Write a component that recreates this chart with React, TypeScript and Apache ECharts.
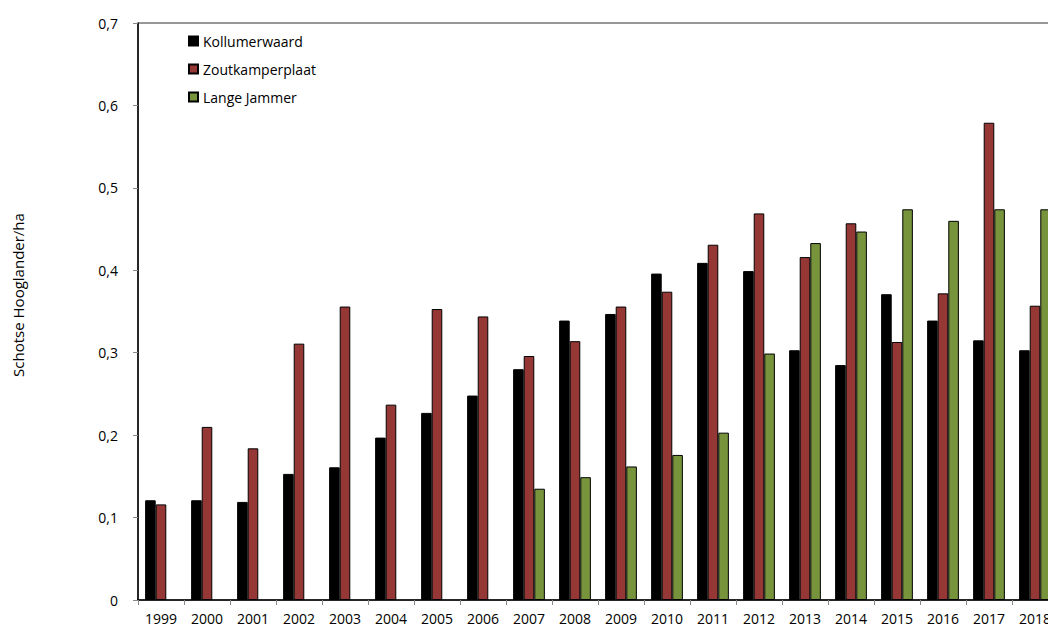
import React, { useEffect, useRef } from "react";
import * as echarts from "echarts";

const years = ["1999","2000","2001","2002","2003","2004","2005","2006","2007","2008","2009","2010","2011","2012","2013","2014","2015","2016","2017","2018"];
const kollumerwaard = [0.121,0.121,0.119,0.153,0.161,0.197,0.227,0.248,0.280,0.339,0.347,0.396,0.409,0.399,0.303,0.285,0.371,0.339,0.315,0.303];
const zoutkamperplaat = [0.116,0.210,0.184,0.311,0.356,0.237,0.353,0.344,0.296,0.314,0.356,0.374,0.431,0.469,0.416,0.457,0.313,0.372,0.579,0.357];
const langeJammer = [null,null,null,null,null,null,null,null,0.135,0.149,0.162,0.176,0.203,0.299,0.433,0.447,0.474,0.460,0.474,0.474];
const seriesNames = ["Kollumerwaard", "Zoutkamperplaat", "Lange Jammer"];
const yTitle = "Schotse Hooglander/ha";

const FONT = "'Open Sans', sans-serif";

export default function App() {
  const ref = useRef<HTMLDivElement>(null);
  useEffect(() => {
    const chart = echarts.init(ref.current!, undefined, { renderer: "svg" });
    const mk = (name: string, data: any[], color: string) => ({
      name,
      type: "bar",
      data,
      barGap: "0%",
      barCategoryGap: "31%",
      itemStyle: { color, borderColor: "#000", borderWidth: 1 },
    });
    chart.setOption({
      animation: false,
      backgroundColor: "#fff",
      textStyle: { fontFamily: FONT },
      grid: {
        left: 138,
        top: 23,
        right: 12,
        bottom: 28,
        show: true,
        borderColor: "#333",
        borderWidth: 1,
      },
      legend: {
        orient: "vertical",
        left: 183,
        top: 29,
        itemWidth: 9,
        itemHeight: 9,
        itemGap: 14,
        icon: "rect",
        textStyle: { fontFamily: FONT, fontSize: 14, color: "#000", lineHeight: 14 },
        data: seriesNames,
      },
      xAxis: {
        type: "category",
        data: years,
        axisLine: { lineStyle: { color: "#000", width: 1.5 } },
        axisTick: { show: true, length: 5, lineStyle: { color: "#888" } },
        axisLabel: { color: "#000", fontFamily: FONT, fontSize: 14, margin: 11, interval: 0 },
      },
      yAxis: {
        type: "value",
        min: 0,
        max: 0.7,
        interval: 0.1,
        splitLine: { show: false },
        axisLine: { show: true, lineStyle: { color: "#000", width: 1.5 } },
        axisTick: { show: true, length: 5, lineStyle: { color: "#888" } },
        axisLabel: {
          color: "#000",
          fontFamily: FONT,
          fontSize: 14,
          margin: 20,
          formatter: (v: number) => (v === 0 ? "0" : v.toFixed(1).replace(".", ",")),
        },
      },
      graphic: [
        {
          type: "text",
          x: 18,
          y: 295,
          rotation: Math.PI / 2,
          style: {
            text: yTitle,
            font: `15px ${FONT}`,
            fill: "#000",
            textAlign: "center",
            textVerticalAlign: "middle",
          },
        },
      ],
      series: [
        mk(seriesNames[0], kollumerwaard, "#000000"),
        mk(seriesNames[1], zoutkamperplaat, "#953735"),
        mk(seriesNames[2], langeJammer, "#77933C"),
      ],
    });
    return () => chart.dispose();
  }, []);
  return (
    <div style={{ position: "absolute", left: 0, top: 0, width: 1048, height: 628, overflow: "hidden" }}>
      <div ref={ref} style={{ width: 1070, height: 628 }} />
    </div>
  );
}
